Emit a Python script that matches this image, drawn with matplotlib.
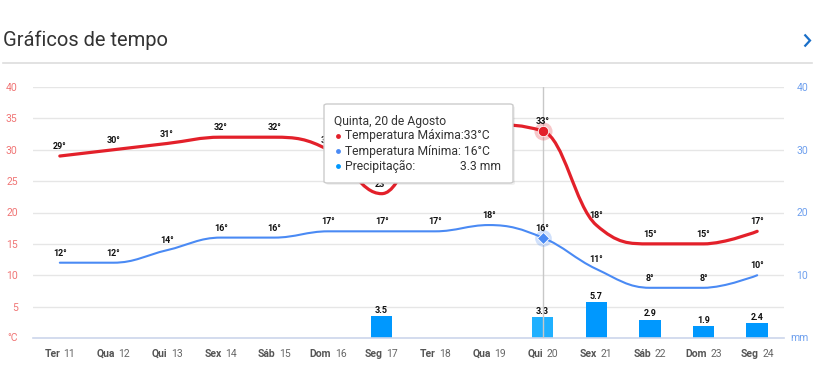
import matplotlib
matplotlib.use("Agg")
import matplotlib.pyplot as plt
from matplotlib.path import Path
from matplotlib.patches import PathPatch, FancyBboxPatch
from matplotlib.lines import Line2D
from matplotlib.offsetbox import TextArea, HPacker, AnnotationBbox

plt.rcParams['font.family'] = ['Roboto', 'DejaVu Sans']

day_names = ["Ter", "Qua", "Qui", "Sex", "Sáb", "Dom", "Seg", "Ter", "Qua", "Qui", "Sex", "Sáb", "Dom", "Seg"]
day_nums = ["11", "12", "13", "14", "15", "16", "17", "18", "19", "20", "21", "22", "23", "24"]
temp_max = [29, 30, 31, 32, 32, 30, 23, 34, 34, 33, 18, 15, 15, 17]
temp_min = [12, 12, 14, 16, 16, 17, 17, 17, 18, 16, 11, 8, 8, 10]
precip = [0, 0, 0, 0, 0, 0, 3.5, 0, 0, 3.3, 5.7, 2.9, 1.9, 2.4]
left_ticks = [5, 10, 15, 20, 25, 30, 35, 40]
right_ticks = [10, 20, 30, 40]
hover_idx = 9

W, H = 827, 381
fig = plt.figure(figsize=(W / 100, H / 100), dpi=100)

def fx(px):
    return px / W

def fy(py):
    return 1 - py / H

RED = "#e3202a"
BLUE = "#4a8af4"
BAR = "#0098fe"
BAR_HOVER = "#1fb0ff"
GRID = "#e6e6e6"
AXIS = "#ccd6eb"

x0, x1, ytop, ybot = 33, 784, 87, 338
ax = fig.add_axes([fx(x0), fy(ybot), fx(x1) - fx(x0), fy(ytop) - fy(ybot)])
ax2 = ax.twinx()
n = len(day_names)
xs = list(range(n))
for a in (ax, ax2):
    a.set_xlim(-0.5, n - 0.5)
    a.set_ylim(0, 40)
    for s in a.spines.values():
        s.set_visible(False)
ax.set_zorder(2)
ax2.set_zorder(1)
ax.patch.set_visible(False)

# grid
for v in range(5, 41, 5):
    ax2.axhline(v, color=GRID, lw=1, zorder=0)
ax.axhline(0, color=AXIS, lw=1.2, zorder=1, clip_on=False)

# left ticks
ax.set_yticks(left_ticks)
ax.set_yticklabels([str(v) for v in left_ticks])
ax.tick_params(axis='y', length=0, pad=11, labelsize=7.5, labelcolor="#f07575")
ax.text(-0.02, 0.0, "°C", transform=ax.transAxes, ha='right', va='center', fontsize=7.5, color="#f07575")

ax2.set_yticks(right_ticks)
ax2.set_yticklabels([str(v) for v in right_ticks])
ax2.tick_params(axis='y', length=0, pad=9, labelsize=7.5, labelcolor="#6fa0ee")
ax2.text(1.008, 0.0, "mm", transform=ax2.transAxes, ha='left', va='center', fontsize=7.5, color="#6fa0ee")

# x ticks
ax.set_xticks(xs)
ax.set_xticklabels([])
ax.tick_params(axis='x', length=6, color=AXIS, width=1)
ax2.tick_params(axis='x', length=0)
ax2.set_xticks([])
for i in xs:
    t1 = TextArea(day_names[i], textprops=dict(fontweight='bold', color="#555555", fontsize=7.5))
    t2 = TextArea(day_nums[i], textprops=dict(color="#666666", fontsize=7.5))
    box = HPacker(children=[t1, t2], pad=0, sep=2.5, align='baseline')
    ab = AnnotationBbox(box, (i, 0), xycoords=('data', 'axes fraction'), xybox=(0, -8),
                        boxcoords='offset points', box_alignment=(0.5, 1), frameon=False,
                        annotation_clip=False)
    ax.add_artist(ab)

# bars
bar_colors = [BAR_HOVER if i == hover_idx else BAR for i in xs]
ax2.bar(xs, precip, width=0.4, color=bar_colors, zorder=2)
for i, v in enumerate(precip):
    if v > 0:
        ax2.annotate(f"{v:.1f}", (i, v), xytext=(0, 1), textcoords='offset points',
                     ha='center', va='bottom', fontsize=6.5, fontweight='bold', color="#111111", zorder=3)

def spline_path(xv, yv):
    m = len(xv)
    sm = 1.5
    den = sm + 1
    lc = [None] * m
    rc = [None] * m
    for i in range(m):
        x, y = xv[i], yv[i]
        if 0 < i < m - 1:
            lx, ly = xv[i - 1], yv[i - 1]
            nx, ny = xv[i + 1], yv[i + 1]
            lcx = (sm * x + lx) / den
            lcy = (sm * y + ly) / den
            rcx = (sm * x + nx) / den
            rcy = (sm * y + ny) / den
            if rcx != lcx:
                corr = ((rcy - lcy) * (rcx - x)) / (rcx - lcx) + y - rcy
                lcy += corr
                rcy += corr
            if lcy > ly and lcy > y:
                lcy = max(ly, y); rcy = 2 * y - lcy
            elif lcy < ly and lcy < y:
                lcy = min(ly, y); rcy = 2 * y - lcy
            if rcy > ny and rcy > y:
                rcy = max(ny, y); lcy = 2 * y - rcy
            elif rcy < ny and rcy < y:
                rcy = min(ny, y); lcy = 2 * y - rcy
            lc[i] = (lcx, lcy)
            rc[i] = (rcx, rcy)
        else:
            lc[i] = (x, y)
            rc[i] = (x, y)
    verts = [(xv[0], yv[0])]
    codes = [Path.MOVETO]
    for i in range(1, m):
        verts += [rc[i - 1], lc[i], (xv[i], yv[i])]
        codes += [Path.CURVE4] * 3
    return Path(verts, codes)

# crosshair
ax.axvline(hover_idx, color="#c8c8c8", lw=1, zorder=3)

ax.add_patch(PathPatch(spline_path(xs, temp_max), fill=False, edgecolor=RED, lw=2.3,
                       capstyle='round', joinstyle='round', zorder=4))
ax.add_patch(PathPatch(spline_path(xs, temp_min), fill=False, edgecolor=BLUE, lw=1.5,
                       capstyle='round', joinstyle='round', zorder=4))

for i in xs:
    ax.annotate(f"{temp_max[i]}°", (i, temp_max[i]), xytext=(0, 3.5), textcoords='offset points',
                ha='center', va='bottom', fontsize=6.5, fontweight='bold', color="#111111", zorder=6)
    ax.annotate(f"{temp_min[i]}°", (i, temp_min[i]), xytext=(0, 3.5), textcoords='offset points',
                ha='center', va='bottom', fontsize=6.5, fontweight='bold', color="#111111", zorder=6)

# hover markers
ax.plot([hover_idx], [temp_max[hover_idx]], 'o', ms=13, color=RED, alpha=0.25, mec='none', zorder=5)
ax.plot([hover_idx], [temp_max[hover_idx]], 'o', ms=7.5, color=RED, mec='white', mew=0.6, zorder=5)
ax.plot([hover_idx], [temp_min[hover_idx]], 'o', ms=12, color=BLUE, alpha=0.25, mec='none', zorder=5)
ax.plot([hover_idx], [temp_min[hover_idx]], 'D', ms=6, color=BLUE, mec='white', mew=0.6, zorder=5)

# title
fig.text(fx(3), fy(40), "Gráficos de tempo", fontsize=14.5, color="#333333", ha='left', va='center')
fig.add_artist(Line2D([fx(3), fx(812)], [fy(62.5), fy(62.5)], color="#dddddd", lw=1.2))
fig.add_artist(Line2D([fx(804.5), fx(810), fx(804.5)], [fy(34.5), fy(40.5), fy(46.5)], color="#1a6fc8",
                      lw=1.6, solid_capstyle='butt', solid_joinstyle='miter'))

# tooltip
shadow = FancyBboxPatch((fx(326), fy(185)), fx(513) - fx(324), fy(104) - fy(183),
                        boxstyle="round,pad=0,rounding_size=0.004", transform=fig.transFigure,
                        facecolor="#000000", alpha=0.06, edgecolor='none', zorder=9)
fig.add_artist(shadow)
tip = FancyBboxPatch((fx(324), fy(183)), fx(513) - fx(324), fy(104) - fy(183),
                     boxstyle="round,pad=0,rounding_size=0.004", transform=fig.transFigure,
                     facecolor="#ffffff", alpha=1.0, edgecolor="#cccccc", lw=1, zorder=10)
fig.add_artist(tip)
TIPC = "#333333"
fig.text(fx(334), fy(121), "Quinta, 20 de Agosto", fontsize=8.7, color=TIPC, ha='left', va='center', zorder=11)
rows = [("Temperatura Máxima:33°C", RED, None, 136),
        ("Temperatura Mínima: 16°C", BLUE, None, 151),
        ("Precipitação:", BAR, "3.3 mm", 166)]
for label, col, val, py in rows:
    fig.add_artist(Line2D([fx(338)], [fy(py)], marker='o', ms=3.5, color=col, mec='none', zorder=11))
    fig.text(fx(345), fy(py), label, fontsize=8.7, color=TIPC, ha='left', va='center', zorder=11)
    if val:
        fig.text(fx(501), fy(py), val, fontsize=8.7, color=TIPC, ha='right', va='center', zorder=11)

fig.savefig("out.png", dpi=100)
